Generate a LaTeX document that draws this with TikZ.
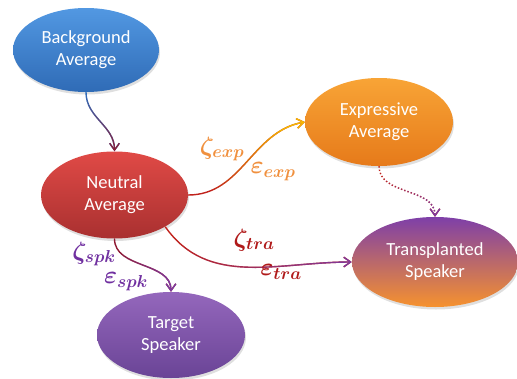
\documentclass[tikz,border=0pt]{standalone}
\usepackage{amsmath,bm}
\usepackage{fontspec}
\setmainfont{Carlito}
\usetikzlibrary{arrows.meta,shapes.geometric,shadows,fadings}

\definecolor{bgtop}{HTML}{5298E2}
\definecolor{bgbot}{HTML}{2F6BB6}
\definecolor{neutop}{HTML}{E04A46}
\definecolor{neubot}{HTML}{A93030}
\definecolor{exptop}{HTML}{F8A436}
\definecolor{expbot}{HTML}{E67A1A}
\definecolor{tgttop}{HTML}{9467BC}
\definecolor{tgtbot}{HTML}{6A4496}
\definecolor{tratop}{HTML}{7E3FA8}
\definecolor{trabot}{HTML}{F6922E}
\definecolor{lnblue}{HTML}{2E70C0}
\definecolor{lnred}{HTML}{C0221C}
\definecolor{lndark}{HTML}{8E1A32}
\definecolor{lnorange}{HTML}{F08A30}
\definecolor{lnyellow}{HTML}{F6B800}
\definecolor{lnpurple}{HTML}{7E3A9E}
\definecolor{lblorange}{HTML}{F0903E}
\definecolor{lblred}{HTML}{B01A1A}
\definecolor{lblpurple}{HTML}{7030A0}

\tikzfading[name=fadeend, left color=transparent!100, right color=transparent!0]
\tikzfading[name=fademid, left color=transparent!100, middle color=transparent!0, right color=transparent!100]

\begin{document}
\begin{tikzpicture}[x=1pt, y=-1pt,
  every node/.style={font=\fontsize{18.5}{22}\selectfont},
  blob/.style={ellipse, text=white, align=center, inner sep=0pt,
    drop shadow={opacity=0.25, shadow xshift=1pt, shadow yshift=-2.5pt}},
  lbl/.style={font=\fontsize{24}{26}\selectfont, inner sep=0pt},
  >={Straight Barb[length=2.4mm, width=3.4mm]}]
	\useasboundingbox (0,0) rectangle (517,378);
	% averages and speakers
	\node[blob, minimum width=146pt, minimum height=84pt, top color=bgtop, bottom color=bgbot] (bg) at (86,50) {Background\\Average};
	\node[blob, minimum width=147pt, minimum height=87pt, top color=neutop, bottom color=neubot] (neu) at (114.5,195) {Neutral\\Average};
	\node[blob, minimum width=148pt, minimum height=88pt, top color=exptop, bottom color=expbot] (exp) at (379,122) {Expressive\\Average};
	\node[blob, minimum width=166pt, minimum height=90pt, top color=tratop, bottom color=trabot] (tra) at (435,262) {Transplanted\\Speaker};
	\node[blob, minimum width=148pt, minimum height=86pt, top color=tgttop, bottom color=tgtbot] (tgt) at (171,335) {Target\\Speaker};
	% connectors
	\draw[->, line width=1.4pt, lnblue] (bg.south) to[out=-90, in=90] (neu.north);
	\draw[->, line width=1.4pt, lndark, path fading=fadeend, fading angle=-90] (bg.south) to[out=-90, in=90] (neu.north);
	\draw[->, line width=1.4pt, lnred] (neu.east) to[out=0, in=190] (exp.west);
	\draw[->, line width=1.4pt, lnorange, path fading=fademid, fading angle=35] (neu.east) to[out=0, in=190] (exp.west);
	\draw[->, line width=1.4pt, lnyellow, path fading=fadeend, fading angle=35] (neu.east) to[out=0, in=190] (exp.west);
	\draw[->, line width=1.4pt, lnred] (neu.-32) to[out=-55, in=180] (tra.west);
	\draw[->, line width=1.4pt, lnorange, path fading=fademid, fading angle=-10] (neu.-32) to[out=-55, in=180] (tra.west);
	\draw[->, line width=1.4pt, lnpurple, path fading=fadeend, fading angle=-10] (neu.-32) to[out=-55, in=180] (tra.west);
	\draw[->, line width=1.4pt, lndark] (neu.south) to[out=-90, in=90] (tgt.north);
	\draw[->, line width=1.4pt, lnpurple, path fading=fadeend, fading angle=-50] (neu.south) to[out=-90, in=90] (tgt.north);
	\draw[->, line width=1.4pt, dotted, lnred] (exp.south) to[out=-90, in=90] (tra.north);
	\draw[->, line width=1.4pt, dotted, lnpurple, path fading=fadeend, fading angle=-60] (exp.south) to[out=-90, in=90] (tra.north);
	% labels
	\node[lbl, lblorange] (zexp) at (222,149) {$\bm{\zeta}_{\bm{exp}}$};
	\node[lbl, lblorange] (eexp) at (273,172) {$\bm{\varepsilon}_{\bm{exp}}$};
	\node[lbl, lblred] (ztra) at (254,240) {$\bm{\zeta}_{\bm{tra}}$};
	\node[lbl, lblred] (etra) at (281,272) {$\bm{\varepsilon}_{\bm{tra}}$};
	\node[lbl, lblpurple] (zspk) at (94,254) {$\bm{\zeta}_{\bm{spk}}$};
	\node[lbl, lblpurple] (espk) at (126,282) {$\bm{\varepsilon}_{\bm{spk}}$};
\end{tikzpicture}
\end{document}
